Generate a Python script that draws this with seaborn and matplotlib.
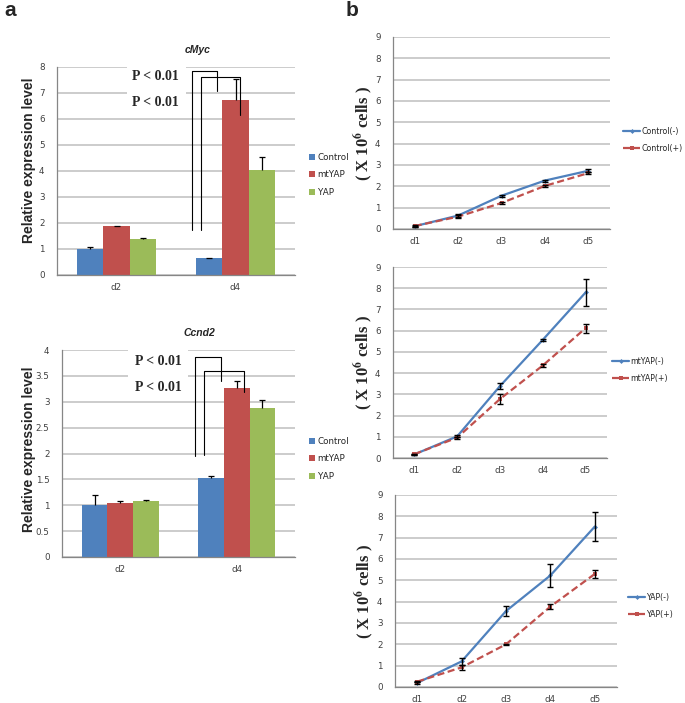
import numpy as np
import pandas as pd
import matplotlib
matplotlib.use('Agg')
import matplotlib.pyplot as plt
from matplotlib.patches import Rectangle
from matplotlib.ticker import FixedLocator, FuncFormatter
import seaborn as sns

# ---- panel a: relative expression (bars) ----
days_a = ['d2', 'd4']
groups = ['Control', 'mtYAP', 'YAP']
cmyc_mean = [[1.00, 0.65], [1.88, 6.75], [1.38, 4.05]]
cmyc_err = [[0.07, 0.02], [0.02, 0.80], [0.05, 0.48]]
ccnd2_mean = [[1.00, 1.52], [1.04, 3.27], [1.09, 2.87]]
ccnd2_err = [[0.19, 0.05], [0.05, 0.14], [0.01, 0.16]]

# ---- panel b: cell numbers (lines) ----
days_b = ['d1', 'd2', 'd3', 'd4', 'd5']
ctrl_minus = [0.13, 0.63, 1.56, 2.27, 2.73]
ctrl_minus_err = [0.03, 0.06, 0.05, 0.05, 0.07]
ctrl_plus = [0.14, 0.58, 1.22, 2.02, 2.62]
ctrl_plus_err = [0.03, 0.07, 0.05, 0.04, 0.06]
mtyap_minus = [0.17, 1.02, 3.39, 5.57, 7.80]
mtyap_minus_err = [0.03, 0.05, 0.15, 0.05, 0.65]
mtyap_plus = [0.18, 0.96, 2.78, 4.36, 6.12]
mtyap_plus_err = [0.03, 0.05, 0.25, 0.05, 0.21]
yap_minus = [0.19, 1.20, 3.56, 5.23, 7.52]
yap_minus_err = [0.03, 0.18, 0.22, 0.53, 0.66]
yap_plus = [0.25, 0.92, 2.00, 3.77, 5.30]
yap_plus_err = [0.03, 0.10, 0.03, 0.10, 0.20]

BLUE, RED, GREEN = '#4F81BD', '#C0504D', '#9BBB59'
GRID = '#BFBFBF'
AXC = '#868686'
TICKC = '#404040'

sns.set_style('white')
plt.rcParams['font.family'] = ['DejaVu Sans']
plt.rcParams['mathtext.fontset'] = 'stix'

fig = plt.figure(figsize=(6.85, 7.03), dpi=100)
W, H = 685, 703


def add_ax(x0, y0, x1, y1):
    return fig.add_axes([x0 / W, 1 - y1 / H, (x1 - x0) / W, (y1 - y0) / H])


def excel_axes(ax, ymax, ystep, ncat):
    ax.set_ylim(0, ymax)
    ax.set_xlim(-0.5, ncat - 0.5)
    ax.yaxis.set_major_locator(FixedLocator(np.arange(0, ymax + 1e-9, ystep)))
    ax.yaxis.set_major_formatter(FuncFormatter(lambda v, p: '%g' % v))
    ax.set_axisbelow(True)
    ax.yaxis.grid(True, color=GRID, lw=1.1)
    ax.xaxis.grid(False)
    for s in ['top', 'right']:
        ax.spines[s].set_visible(False)
    for s in ['left', 'bottom']:
        ax.spines[s].set_color(AXC)
        ax.spines[s].set_linewidth(0.9)
    ax.xaxis.set_minor_locator(FixedLocator(np.arange(-0.5, ncat, 1.0)))
    ax.tick_params(axis='x', which='major', length=0, labelsize=6.3, colors=TICKC, pad=6)
    ax.tick_params(axis='x', which='minor', length=4, color=AXC, direction='out')
    ax.tick_params(axis='y', length=3, color=AXC, labelsize=6.3, labelcolor=TICKC,
                   direction='out', pad=6)
    ax.set_xlabel('')


def bar_panel(ax, means, errs, title, ymax, ystep, box, brackets, ptext_y, ylabel_xy):
    df = pd.DataFrame({
        'day': days_a * len(groups),
        'group': [g for g in groups for _ in days_a],
        'value': [v for row in means for v in row],
    })
    sns.barplot(data=df, x='day', y='value', hue='group', order=days_a,
                hue_order=groups, palette=[BLUE, RED, GREEN], width=0.66,
                errorbar=None, saturation=1, edgecolor='none', ax=ax)
    # upper-only error bars (Excel style)
    for cont, err in zip(ax.containers, errs):
        xs = [b.get_x() + b.get_width() / 2 for b in cont]
        ys = [b.get_height() for b in cont]
        eb = ax.errorbar(xs, ys, yerr=[np.zeros(len(err)), err], fmt='none',
                         ecolor='black', elinewidth=0.9, capsize=2.5, capthick=0.9,
                         zorder=4)
        eb.lines[1][0].set_visible(False)
    excel_axes(ax, ymax, ystep, len(days_a))
    ax.set_ylabel('Relative expression level', fontsize=10, fontweight='bold',
                  family='Liberation Sans')
    ax.yaxis.set_label_coords(*ylabel_xy)
    ax.set_title(title, fontsize=7.5, fontweight='bold', style='italic',
                 family='Liberation Sans', x=0.59, pad=10)
    # white text box hiding gridlines
    ax.add_patch(Rectangle((box[0], box[2]), box[1] - box[0], box[3] - box[2],
                           facecolor='white', edgecolor='none', zorder=0.8,
                           clip_on=False))
    for yy in ptext_y:
        ax.text(0.33, yy, 'P < 0.01', fontsize=10, fontweight='bold',
                family='Liberation Serif', ha='center', va='center', zorder=3)
    for (xl, xr, ybot, ytop, yend) in brackets:
        ax.plot([xl, xl, xr, xr], [ybot, ytop, ytop, yend], color='black',
                lw=0.8, zorder=3, clip_on=False)
    leg = ax.get_legend()
    if leg is not None:
        leg.remove()
    return ax


# cMyc
ax1 = add_ax(57, 67, 295, 275)
bar_panel(ax1, cmyc_mean, cmyc_err, 'cMyc', 8, 1,
          box=(0.09, 0.58, 6.3, 8.08),
          brackets=[(0.634, 0.845, 1.72, 7.83, 7.06), (0.71, 1.04, 1.72, 7.62, 6.14)],
          ptext_y=[7.64, 6.62], ylabel_xy=(-0.09, 0.55))
h, l = ax1.get_legend_handles_labels()
fig.legend(h, l, loc='upper left', bbox_to_anchor=(309 / W, 1 - 153 / H),
           frameon=False, fontsize=6.3, handlelength=0.7, handleheight=0.7,
           handletextpad=0.3, labelspacing=0.95, borderpad=0, borderaxespad=0)

# Ccnd2
ax2 = add_ax(62, 350, 295, 557)
bar_panel(ax2, ccnd2_mean, ccnd2_err, 'Ccnd2', 4, 0.5,
          box=(0.07, 0.58, 3.1, 4.04),
          brackets=[(0.64, 0.865, 1.95, 3.86, 3.40), (0.72, 1.06, 1.97, 3.60, 3.19)],
          ptext_y=[3.77, 3.27], ylabel_xy=(-0.112, 0.52))
h, l = ax2.get_legend_handles_labels()
fig.legend(h, l, loc='upper left', bbox_to_anchor=(309 / W, 1 - 437 / H),
           frameon=False, fontsize=6.3, handlelength=0.7, handleheight=0.7,
           handletextpad=0.3, labelspacing=0.95, borderpad=0, borderaxespad=0)


def line_panel(ax, name, minus, minus_err, plus, plus_err, leg_xy):
    sns.lineplot(x=days_b, y=minus, ax=ax, color=BLUE, lw=1.6, marker='D',
                 markersize=2.5, markeredgewidth=0, label=name + '(-)', sort=False)
    sns.lineplot(x=days_b, y=plus, ax=ax, color=RED, lw=1.6, marker='s',
                 markersize=2.8, markeredgewidth=0, linestyle=(0, (3.2, 1.6)),
                 label=name + '(+)', sort=False)
    for vals, err in [(minus, minus_err), (plus, plus_err)]:
        ax.errorbar(days_b, vals, yerr=err, fmt='none', ecolor='black',
                    elinewidth=1.0, capsize=2.3, capthick=1.0, zorder=4)
    excel_axes(ax, 9, 1, len(days_b))
    ax.set_ylabel(r'( X 10$^{\mathbf{6}}$ cells )', fontsize=12, fontweight='bold',
                  family='Liberation Serif')
    ax.yaxis.set_label_coords(-0.085, 0.5)
    h, l = ax.get_legend_handles_labels()
    ax.get_legend().remove()
    fig.legend(h, l, loc='upper left', bbox_to_anchor=(leg_xy[0] / W, 1 - leg_xy[1] / H),
               frameon=False, fontsize=5.7, handlelength=2.2, handletextpad=0.1,
               labelspacing=0.95, borderpad=0, borderaxespad=0)


ax3 = add_ax(393, 37, 610, 229)
line_panel(ax3, 'Control', ctrl_minus, ctrl_minus_err, ctrl_plus, ctrl_plus_err, (623, 127))
ax4 = add_ax(393, 267, 607, 458)
line_panel(ax4, 'mtYAP', mtyap_minus, mtyap_minus_err, mtyap_plus, mtyap_plus_err, (612, 357))
ax5 = add_ax(395, 495, 617, 687)
line_panel(ax5, 'YAP', yap_minus, yap_minus_err, yap_plus, yap_plus_err, (628, 593))

fig.text(4 / W, 1 - 11 / H, 'a', fontsize=15, fontweight='bold', va='center',
         family='Liberation Sans')
fig.text(346 / W, 1 - 11 / H, 'b', fontsize=15, fontweight='bold', va='center',
         family='Liberation Sans')

fig.savefig('out.png', dpi=100)
